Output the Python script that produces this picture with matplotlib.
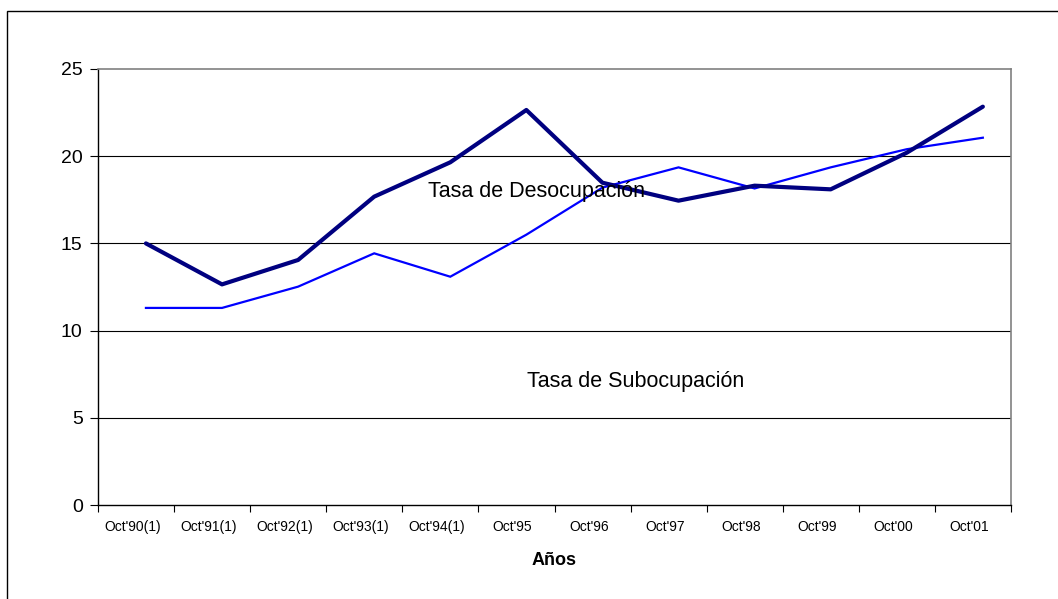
import matplotlib
matplotlib.use("Agg")
import matplotlib.pyplot as plt
from matplotlib.patches import Rectangle

categories = ["Oct'90(1)", "Oct'91(1)", "Oct'92(1)", "Oct'93(1)", "Oct'94(1)", "Oct'95",
              "Oct'96", "Oct'97", "Oct'98", "Oct'99", "Oct'00", "Oct'01"]
desocupacion = [15.0, 12.65, 14.05, 17.68, 19.65, 22.65, 18.48, 17.45, 18.31, 18.1, 20.2, 22.84]
subocupacion = [11.3, 11.3, 12.52, 14.43, 13.09, 15.5, 18.2, 19.36, 18.15, 19.36, 20.4, 21.06]
yticks = [0, 5, 10, 15, 20, 25]

plt.rcParams['font.family'] = ['Liberation Sans', 'DejaVu Sans']

W, H = 1058, 599
fig = plt.figure(figsize=(W / 100, H / 100), dpi=100)
fig.patch.set_facecolor('white')

# outer chart border (extends past right/bottom edges)
fig.patches.append(Rectangle((7 / W, -0.1), 1.2, 1 - 10.5 / H + 0.1, transform=fig.transFigure,
                             fill=False, edgecolor='black', linewidth=1.0))

left, right, top, bottom = 98, 1011, 69, 505
ax = fig.add_axes([left / W, 1 - bottom / H, (right - left) / W, (bottom - top) / H])

x = list(range(len(categories)))
shift = 0.63  # points are drawn slightly right of category centres in the reference
ax.set_xlim(-shift, len(categories) - shift)
ax.set_ylim(0, 25)

for v in yticks[1:-1]:
    ax.axhline(v, color='black', linewidth=0.8, zorder=1)

ax.plot(x, subocupacion, color='#0000FF', linewidth=1.6, zorder=3, solid_joinstyle='miter')
ax.plot(x, desocupacion, color='#000080', linewidth=3.0, zorder=4, solid_capstyle='round')

ax.text(3.71, 18.0, 'Tasa de Desocupación', fontsize=15.5, va='center', ha='left', zorder=5)
ax.text(5.01, 7.1, 'Tasa de Subocupación', fontsize=15.5, va='center', ha='left', zorder=5)

# ticks at category boundaries, labels at category centres
ax.set_xticks([k - shift for k in range(len(categories) + 1)])
ax.set_xticklabels([])
ax.set_xticks([i - shift + 0.45 for i in range(len(categories))], minor=True)
ax.set_xticklabels(categories, minor=True, fontsize=10)
ax.tick_params(axis='x', which='major', direction='out', length=5, width=0.8)
ax.tick_params(axis='x', which='minor', length=0, pad=11)

ax.set_yticks(yticks)
ax.set_yticklabels([str(v) for v in yticks], fontsize=14)
ax.tick_params(axis='y', direction='out', length=6, width=0.8, pad=5)

ax.set_xlabel('Años', fontsize=13, fontweight='bold', labelpad=13)

for s in ['top', 'right']:
    ax.spines[s].set_color('#808080')
    ax.spines[s].set_linewidth(1.2)
for s in ['left', 'bottom']:
    ax.spines[s].set_color('black')
    ax.spines[s].set_linewidth(1.0)

fig.savefig('out.png', dpi=100, facecolor='white')
